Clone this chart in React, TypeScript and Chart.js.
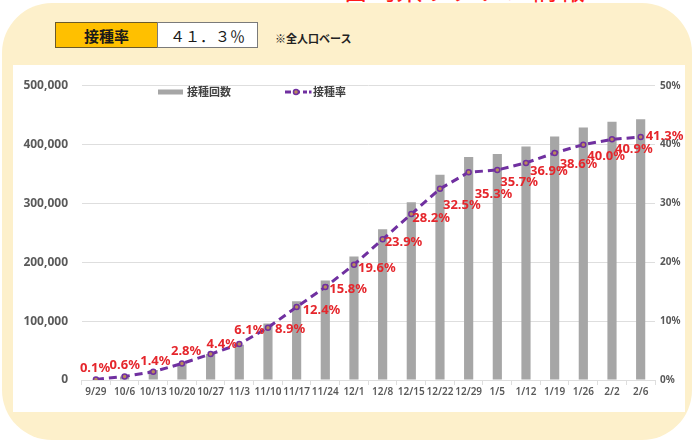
import React, { useEffect, useRef } from 'react';
import { Chart, registerables } from 'chart.js';

Chart.register(...registerables);

const categories = ['9/29', '10/6', '10/13', '10/20', '10/27', '11/3', '11/10', '11/17', '11/24', '12/1', '12/8', '12/15', '12/22', '12/29', '1/5', '1/12', '1/19', '1/26', '2/2', '2/6'];
const doseCounts = [1000, 6000, 17000, 28000, 44000, 60000, 96000, 134000, 169000, 210000, 256000, 302000, 349000, 379000, 384000, 397000, 414000, 429000, 439000, 443000];
const rates = [0.1, 0.6, 1.4, 2.8, 4.4, 6.1, 8.9, 12.4, 15.8, 19.6, 23.9, 28.2, 32.5, 35.3, 35.7, 36.9, 38.6, 40.0, 40.9, 41.3];
const countLabel = '接種回数';
const rateLabel = '接種率';
const headlineRate = '４１．３％';

// label placement (offset of label's left/middle from its point)
const labelDx = [-16, -15, -13, -11, -4, -5, 7, 6, 4, 4, 2, 1, 3, 6, 3, 4, 5, 4, 3, 5];
const labelDy = [-11, -11, -10, -12, -10, -14, 2, 3, 2, 4, 3, 4, 17, 22, 12, 8, 11, 12, 10, -1];

const GRAY = '#a6a6a6';
const PURPLE = '#7030a0';
const TICK = '#595959';
const GRID = '#dedede';

const rateLabelsPlugin = {
  id: 'rateLabels',
  afterDatasetsDraw(chart: any) {
    const meta = chart.getDatasetMeta(1);
    const ctx = chart.ctx;
    ctx.save();
    ctx.font = 'bold 13px "Noto Sans"';
    ctx.fillStyle = '#e5262c';
    ctx.textBaseline = 'middle';
    ctx.textAlign = 'left';
    meta.data.forEach((pt: any, i: number) => {
      ctx.fillText(rates[i].toFixed(1) + '%', pt.x + labelDx[i], pt.y + labelDy[i]);
    });
    ctx.restore();
  },
};

const legendPlugin = {
  id: 'innerLegend',
  afterDraw(chart: any) {
    const ctx = chart.ctx;
    const y = 27;
    ctx.save();
    ctx.fillStyle = GRAY;
    ctx.fillRect(145, y - 2.5, 25, 5);
    ctx.font = 'bold 11px "Noto Sans CJK JP"';
    ctx.fillStyle = '#404040';
    ctx.textBaseline = 'middle';
    ctx.textAlign = 'left';
    ctx.fillText(countLabel, 174, y);
    ctx.strokeStyle = PURPLE;
    ctx.lineWidth = 3;
    ctx.setLineDash([6, 3]);
    ctx.beginPath();
    ctx.moveTo(272, y);
    ctx.lineTo(294, y);
    ctx.stroke();
    ctx.setLineDash([]);
    ctx.beginPath();
    ctx.arc(283, y, 2.5, 0, Math.PI * 2);
    ctx.fillStyle = '#b98a5c';
    ctx.fill();
    ctx.lineWidth = 1.5;
    ctx.stroke();
    ctx.fillStyle = PURPLE;
    ctx.fillRect(296, y - 1.5, 2.5, 3);
    ctx.fillStyle = '#404040';
    ctx.fillText(rateLabel, 300, y);
    ctx.restore();
  },
};

function RateChart() {
  const ref = useRef<HTMLCanvasElement | null>(null);
  useEffect(() => {
    if (!ref.current) return;
    const chart = new Chart(ref.current, {
      type: 'bar',
      data: {
        labels: categories,
        datasets: [
          {
            type: 'bar',
            label: countLabel,
            data: doseCounts,
            backgroundColor: GRAY,
            barPercentage: 0.32,
            categoryPercentage: 1,
            yAxisID: 'y',
            order: 2,
          },
          {
            type: 'line',
            label: rateLabel,
            data: rates,
            borderColor: PURPLE,
            borderWidth: 3,
            borderDash: [8, 5],
            pointRadius: 2.5,
            pointBackgroundColor: '#b98a5c',
            pointBorderColor: PURPLE,
            pointBorderWidth: 1.5,
            tension: 0,
            yAxisID: 'y1',
            order: 1,
          } as any,
        ],
      },
      options: {
        animation: false,
        responsive: false,
        maintainAspectRatio: false,
        layout: { padding: { top: 9, left: 0, right: 0, bottom: 0 } },
        plugins: {
          legend: { display: false },
          tooltip: { enabled: false },
        },
        scales: {
          x: {
            offset: true,
            grid: {
              display: true,
              offset: true,
              drawOnChartArea: false,
              drawTicks: true,
              tickLength: 5,
              color: GRID,
            },
            border: { display: true, color: GRID },
            ticks: {
              autoSkip: false,
              maxRotation: 0,
              minRotation: 0,
              padding: 1,
              color: TICK,
              font: { family: '"Noto Sans"', size: 10, weight: '600' },
            },
            afterFit: (s: any) => {
              s.height = 32;
            },
          },
          y: {
            position: 'left',
            min: 0,
            max: 500000,
            grid: { color: GRID, drawTicks: false },
            border: { display: false },
            ticks: {
              stepSize: 100000,
              padding: 13.6,
              color: TICK,
              font: { family: '"Noto Sans"', size: 12, weight: 'bold' },
              callback: (v: any) => Number(v).toLocaleString('en-US'),
            },
            afterFit: (s: any) => {
              s.width = 68.6;
            },
          },
          y1: {
            position: 'right',
            min: 0,
            max: 50,
            grid: { display: false, drawTicks: false },
            border: { display: false },
            ticks: {
              stepSize: 10,
              padding: 5,
              color: TICK,
              font: { family: '"Noto Sans"', size: 10, weight: 'bold' },
              callback: (v: any) => v + '%',
            },
            afterFit: (s: any) => {
              s.width = 30;
            },
          },
        },
      },
      plugins: [rateLabelsPlugin, legendPlugin],
    } as any);
    return () => chart.destroy();
  }, []);
  return (
    <canvas
      ref={ref}
      width={672}
      height={347}
      style={{ position: 'absolute', left: 13, top: 65, width: 672, height: 347 }}
    />
  );
}

export default function App() {
  return (
    <div
      style={{
        position: 'absolute',
        left: 0,
        top: 0,
        width: 700,
        height: 443,
        overflow: 'hidden',
        background: '#ffffff',
      }}
    >
      <div
        style={{
          position: 'absolute',
          left: 2,
          top: 3,
          width: 690,
          height: 437,
          borderRadius: 50,
          background: '#fdf0cb',
        }}
      />
      <div
        style={{
          position: 'absolute',
          left: 342,
          top: -25,
          fontFamily: '"Noto Sans CJK JP"',
          fontSize: 27,
          lineHeight: 1,
          color: '#ff1a1a',
          whiteSpace: 'nowrap',
        }}
      >
        宮崎県ワクチン情報
      </div>
      <div
        style={{
          position: 'absolute',
          left: 55,
          top: 22,
          width: 103,
          height: 26,
          boxSizing: 'border-box',
          background: '#ffc000',
          border: '1px solid #6b5a2a',
          display: 'flex',
          alignItems: 'center',
          justifyContent: 'center',
          fontFamily: '"Noto Sans CJK JP"',
          fontWeight: 'bold',
          fontSize: 15,
          color: '#1a1a1a',
        }}
      >
        {rateLabel}
      </div>
      <div
        style={{
          position: 'absolute',
          left: 157,
          top: 22,
          width: 101,
          height: 26,
          boxSizing: 'border-box',
          background: '#ffffff',
          border: '1px solid #7a7a7a',
          display: 'flex',
          alignItems: 'center',
          justifyContent: 'center',
          fontFamily: '"Noto Sans CJK JP"',
          fontSize: 15,
          color: '#1a1a1a',
        }}
      >
        {headlineRate}
      </div>
      <div
        style={{
          position: 'absolute',
          left: 275,
          top: 31,
          fontFamily: '"Noto Sans CJK JP"',
          fontWeight: 'bold',
          fontSize: 11,
          lineHeight: '14px',
          color: '#222222',
          whiteSpace: 'nowrap',
        }}
      >
        ※全人口ベース
      </div>
      <div
        style={{
          position: 'absolute',
          left: 13,
          top: 65,
          width: 672,
          height: 347,
          background: '#ffffff',
        }}
      />
      <RateChart />
    </div>
  );
}
